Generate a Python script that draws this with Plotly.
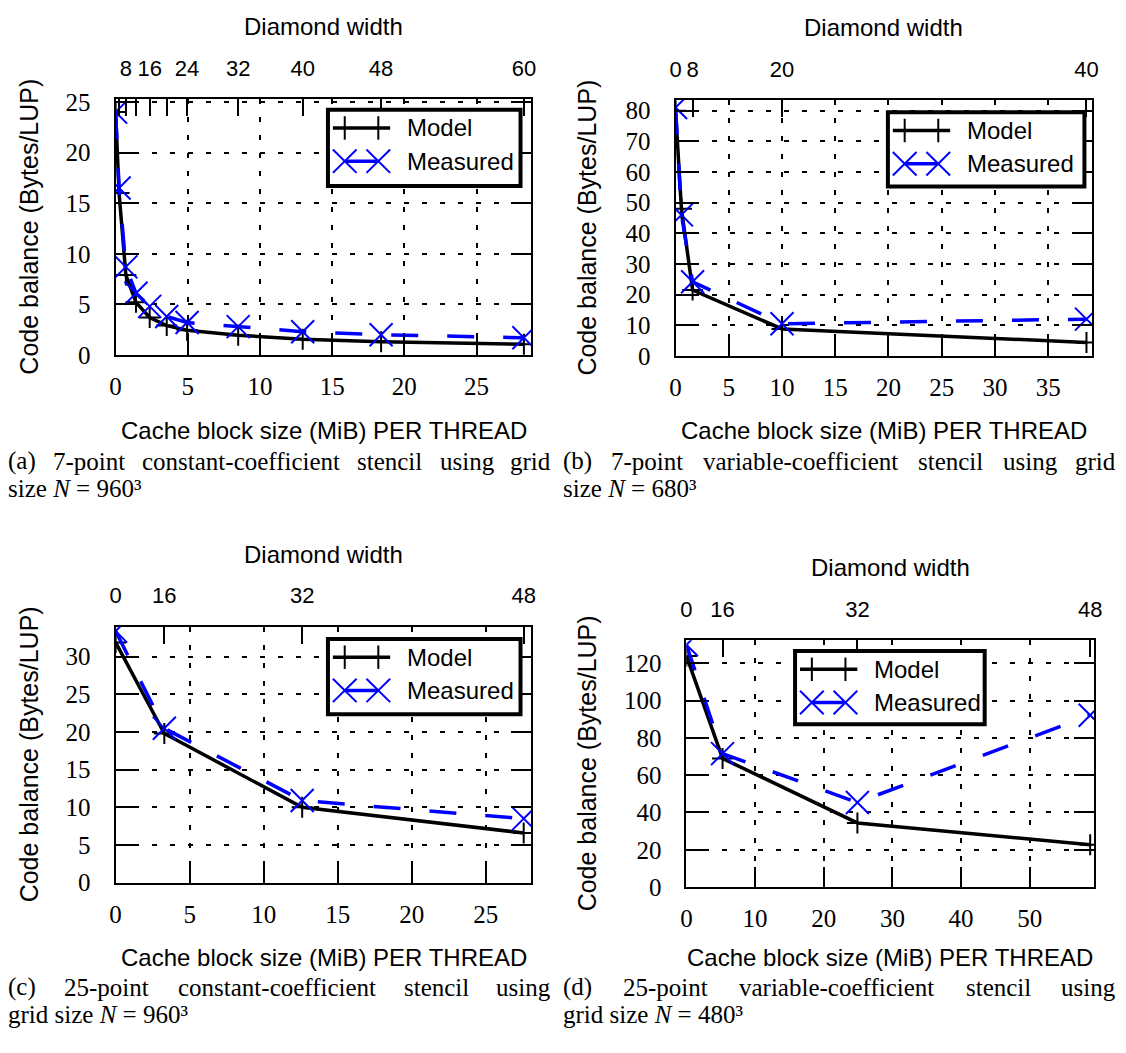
import plotly.graph_objects as go

FIG_W, FIG_H = 1126, 1053
BLACK = "#000000"
BLUE = "#0000ff"
SANS = "Liberation Sans"
SERIF = "Liberation Serif"

# ---------------- data ----------------
# (a) 7-point constant-coefficient stencil, N = 960^3
a_cache = [0.0, 0.24, 0.71, 1.41, 2.36, 3.54, 4.95, 8.49, 12.96, 18.39, 28.28]
a_model = [24.0, 16.0, 7.9, 5.2, 3.7, 2.9, 2.45, 1.95, 1.55, 1.3, 1.05]
a_measured = [24.0, 16.5, 8.7, 6.1, 4.8, 3.8, 3.2, 2.8, 2.3, 2.0, 1.7]
a_top_ticks = [0.71, 2.36, 4.95, 8.49, 12.96, 18.39, 28.28]
a_top_labels = ["8", "16", "24", "32", "40", "48", "60"]
a_top_minor = [0.24, 1.41, 3.54]          # widths 4, 12, 20 (unlabelled)

# (b) 7-point variable-coefficient stencil, N = 680^3
b_cache = [0.0, 0.55, 1.6, 10.0, 38.6]
b_model = [80.0, 48.0, 21.5, 8.8, 4.4]
b_measured = [81.0, 46.0, 24.2, 10.5, 12.0]
b_top_ticks = [0.0, 1.6, 10.0, 38.6]
b_top_labels = ["0", "8", "20", "40"]
b_top_minor = []

# (c) 25-point constant-coefficient stencil, N = 960^3
c_cache = [0.0, 3.29, 12.6, 27.56]
c_model = [31.9, 19.8, 10.0, 6.6]
c_measured = [33.4, 20.5, 10.9, 8.5]
c_top_ticks = [0.0, 3.29, 12.6, 27.56]
c_top_labels = ["0", "16", "32", "48"]
c_top_minor = []

# (d) 25-point variable-coefficient stencil, N = 480^3
d_cache = [0.0, 5.26, 24.9, 58.8]
d_model = [124.0, 69.0, 34.4, 22.7]
d_measured = [130.0, 71.6, 45.4, 92.2]
d_top_ticks = [0.0, 5.26, 24.9, 58.8]
d_top_labels = ["0", "16", "32", "48"]
d_top_minor = []

series_names = ["Model", "Measured"]
x_title = "Cache block size (MiB) PER THREAD"
x2_title = "Diamond width"
y_title = "Code balance (Bytes/LUP)"

a_caption_words = ["(a)", "7-point", "constant-coefficient", "stencil", "using", "grid"]
b_caption_words = ["(b)", "7-point", "variable-coefficient", "stencil", "using", "grid"]
c_caption_words = ["(c)", "25-point", "constant-coefficient", "stencil", "using"]
d_caption_words = ["(d)", "25-point", "variable-coefficient", "stencil", "using"]
a_caption_tail = "size <i>N</i> = 960³"
b_caption_tail = "size <i>N</i> = 680³"
c_caption_tail = "grid size <i>N</i> = 960³"
d_caption_tail = "grid size <i>N</i> = 480³"

# ---------------- layout (pixel geometry) ----------------
panels = [
    dict(cache=a_cache, model=a_model, measured=a_measured,
         top_ticks=a_top_ticks, top_labels=a_top_labels, top_minor=a_top_minor,
         box=(111, 91, 532, 353), xmax=28.8, xdtick=5, ymax=25.3, ydtick=5,
         legend=dict(left=None, right_inset=11, top_inset=11, width=195, height=78),
         ytitle_x=23, xtitle_y=430,
         caption=a_caption_words, cap_x=(1, 553), cap_centers=[84, 238, 388, 467],
         tail=a_caption_tail, cap_y=(462, 490)),
    dict(cache=b_cache, model=b_model, measured=b_measured,
         top_ticks=b_top_ticks, top_labels=b_top_labels, top_minor=b_top_minor,
         box=(678, 92, 1100, 354), xmax=39.15, xdtick=5, ymax=83.5, ydtick=10,
         legend=dict(left=None, right_inset=8, top_inset=12.6, width=199, height=76),
         ytitle_x=588, xtitle_y=430,
         caption=b_caption_words, cap_x=(563, 1125), cap_centers=[649, 804, 956, 1037],
         tail=b_caption_tail, cap_y=(462, 490)),
    dict(cache=c_cache, model=c_model, measured=c_measured,
         top_ticks=c_top_ticks, top_labels=c_top_labels, top_minor=c_top_minor,
         box=(111, 631, 532, 893), xmax=28.08, xdtick=5, ymax=34.0, ydtick=5,
         legend=dict(left=None, right_inset=11, top_inset=12.6, width=195, height=77),
         ytitle_x=23, xtitle_y=970,
         caption=c_caption_words, cap_x=(1, 553), cap_centers=[102, 274, 436],
         tail=c_caption_tail, cap_y=(1000, 1028)),
    dict(cache=d_cache, model=d_model, measured=d_measured,
         top_ticks=d_top_ticks, top_labels=d_top_labels, top_minor=d_top_minor,
         box=(689, 645, 1102, 897.5), xmax=59.4, xdtick=10, ymax=132.4, ydtick=20,
         legend=dict(left=110, right_inset=None, top_inset=11, width=192, height=75),
         ytitle_x=588, xtitle_y=970,
         caption=d_caption_words, cap_x=(563, 1125), cap_centers=[668, 841, 1005],
         tail=d_caption_tail, cap_y=(1000, 1028)),
]


def fx(p):
    return p / FIG_W


def fy(p):
    return 1 - p / FIG_H


fig = go.Figure()
layout = {}
shapes = []
annotations = []

for i, pnl in enumerate(panels, start=1):
    xa = "x" if i == 1 else f"x{i}"
    ya = "y" if i == 1 else f"y{i}"
    xt = f"x{i + 4}"
    l, t, r, b = pnl["box"]

    fig.add_trace(go.Scatter(
        x=pnl["cache"], y=pnl["model"], name=series_names[0],
        xaxis=xa, yaxis=ya, mode="lines+markers", showlegend=False,
        line=dict(color=BLACK, width=3.5),
        marker=dict(symbol="cross-thin", size=15, color=BLACK,
                    line=dict(color=BLACK, width=2)),
    ))
    fig.add_trace(go.Scatter(
        x=pnl["cache"], y=pnl["measured"], name=series_names[1],
        xaxis=xa, yaxis=ya, mode="lines+markers", showlegend=False,
        line=dict(color=BLUE, width=3.5, dash="27px,29px"),
        marker=dict(symbol="x-thin", size=23, color=BLUE,
                    line=dict(color=BLUE, width=2)),
    ))
    # empty trace that registers the top (diamond width) axis
    fig.add_trace(go.Scatter(x=[], y=[], xaxis=xt, yaxis=ya, showlegend=False))

    xkey = "xaxis" if i == 1 else f"xaxis{i}"
    ykey = "yaxis" if i == 1 else f"yaxis{i}"
    grid = dict(showgrid=True, gridcolor=BLACK, gridwidth=1.5, griddash="5px,13px")
    layout[xkey] = dict(
        domain=[fx(l), fx(r)], anchor=ya, range=[0, pnl["xmax"]],
        tick0=0, dtick=pnl["xdtick"], ticks="inside", ticklen=20, tickwidth=2,
        tickcolor=BLACK, showline=True, linewidth=2, linecolor=BLACK, mirror=True,
        zeroline=False, tickfont=dict(family=SERIF, size=25, color=BLACK),
        ticklabelstandoff=8, fixedrange=True, **grid)
    layout[ykey] = dict(
        domain=[fy(b), fy(t)], anchor=xa, range=[0, pnl["ymax"]],
        tick0=0, dtick=pnl["ydtick"], ticks="inside", ticklen=20, tickwidth=2,
        tickcolor=BLACK, showline=True, linewidth=2, linecolor=BLACK, mirror="ticks",
        zeroline=False, tickfont=dict(family=SERIF, size=25, color=BLACK),
        ticklabelstandoff=18, fixedrange=True, **grid)
    top = dict(
        overlaying=xa, anchor=ya, side="top", range=[0, pnl["xmax"]],
        tickmode="array", tickvals=pnl["top_ticks"], ticktext=pnl["top_labels"],
        ticks="inside", ticklen=17, tickwidth=2, tickcolor=BLACK,
        showline=False, showgrid=False, zeroline=False,
        tickfont=dict(family=SANS, size=22, color=BLACK),
        ticklabelstandoff=18, fixedrange=True)
    if pnl["top_minor"]:
        top["minor"] = dict(tickmode="array", tickvals=pnl["top_minor"], ticks="inside",
                            ticklen=17, tickwidth=2, tickcolor=BLACK, showgrid=False)
    layout[f"xaxis{i + 4}"] = top

    # axis titles
    cx = (l + r) / 2
    title_font = dict(family=SANS, size=24, color=BLACK)
    annotations.append(dict(text=x2_title, x=fx(cx), y=fy(t - 74), xref="paper", yref="paper",
                            showarrow=False, xanchor="center", yanchor="middle", font=title_font))
    annotations.append(dict(text=x_title, x=fx(cx), y=fy(pnl["xtitle_y"]), xref="paper", yref="paper",
                            showarrow=False, xanchor="center", yanchor="middle", font=title_font))
    annotations.append(dict(text=y_title, x=fx(pnl["ytitle_x"]), y=fy((t + b) / 2),
                            xref="paper", yref="paper", showarrow=False, textangle=-90,
                            xanchor="center", yanchor="middle",
                            font=dict(family=SANS, size=25, color=BLACK)))

    # key box drawn inside the plot area
    lg = pnl["legend"]
    if lg["left"] is None:
        lx1 = r - lg["right_inset"]
        lx0 = lx1 - lg["width"]
    else:
        lx0 = l + lg["left"]
        lx1 = lx0 + lg["width"]
    ly0 = t + lg["top_inset"]
    ly1 = ly0 + lg["height"]
    shapes.append(dict(type="rect", xref="paper", yref="paper",
                       x0=fx(lx0), x1=fx(lx1), y0=fy(ly0), y1=fy(ly1),
                       fillcolor="white", line=dict(color=BLACK, width=4), layer="above"))
    s0, s1 = lx0 + 17, lx0 + 51
    rows = [ly0 + 18.7, ly0 + 52.7]
    arm = 12
    # Model sample: thick line with a "+" at each end
    shapes.append(dict(type="line", xref="paper", yref="paper",
                       x0=fx(s0 - arm), x1=fx(s1 + arm), y0=fy(rows[0]), y1=fy(rows[0]),
                       line=dict(color=BLACK, width=3.5)))
    for sx in (s0, s1):
        shapes.append(dict(type="line", xref="paper", yref="paper",
                           x0=fx(sx), x1=fx(sx), y0=fy(rows[0] - arm), y1=fy(rows[0] + arm),
                           line=dict(color=BLACK, width=2)))
    # Measured sample: thick blue line with an "x" at each end
    shapes.append(dict(type="line", xref="paper", yref="paper",
                       x0=fx(s0), x1=fx(s1), y0=fy(rows[1]), y1=fy(rows[1]),
                       line=dict(color=BLUE, width=3.5)))
    for sx in (s0, s1):
        shapes.append(dict(type="line", xref="paper", yref="paper",
                           x0=fx(sx - arm), x1=fx(sx + arm), y0=fy(rows[1] - arm), y1=fy(rows[1] + arm),
                           line=dict(color=BLUE, width=2)))
        shapes.append(dict(type="line", xref="paper", yref="paper",
                           x0=fx(sx - arm), x1=fx(sx + arm), y0=fy(rows[1] + arm), y1=fy(rows[1] - arm),
                           line=dict(color=BLUE, width=2)))
    for name, ry in zip(series_names, rows):
        annotations.append(dict(text=name, x=fx(lx0 + 78), y=fy(ry), xref="paper", yref="paper",
                                showarrow=False, xanchor="left", yanchor="middle", font=title_font))

    # caption: justified first line, then the grid size
    cap_font = dict(family=SERIF, size=25, color=BLACK)
    words = pnl["caption"]
    cap_l, cap_r = pnl["cap_x"]
    y1c, y2c = pnl["cap_y"]
    xs = [cap_l] + pnl["cap_centers"] + [cap_r]
    anchors = ["left"] + ["center"] * len(pnl["cap_centers"]) + ["right"]
    for w, wx, anc in zip(words, xs, anchors):
        annotations.append(dict(text=w, x=fx(wx), y=fy(y1c), xref="paper", yref="paper",
                                showarrow=False, xanchor=anc, yanchor="middle",
                                borderpad=0, font=cap_font))
    annotations.append(dict(text=pnl["tail"], x=fx(cap_l), y=fy(y2c), xref="paper", yref="paper",
                            showarrow=False, xanchor="left", yanchor="middle",
                            borderpad=0, font=cap_font))

fig.update_layout(
    width=FIG_W, height=FIG_H, autosize=False,
    margin=dict(l=0, r=0, t=0, b=0),
    paper_bgcolor="white", plot_bgcolor="white",
    showlegend=False, shapes=shapes, annotations=annotations,
    **layout,
)

fig.write_html("out.html")
